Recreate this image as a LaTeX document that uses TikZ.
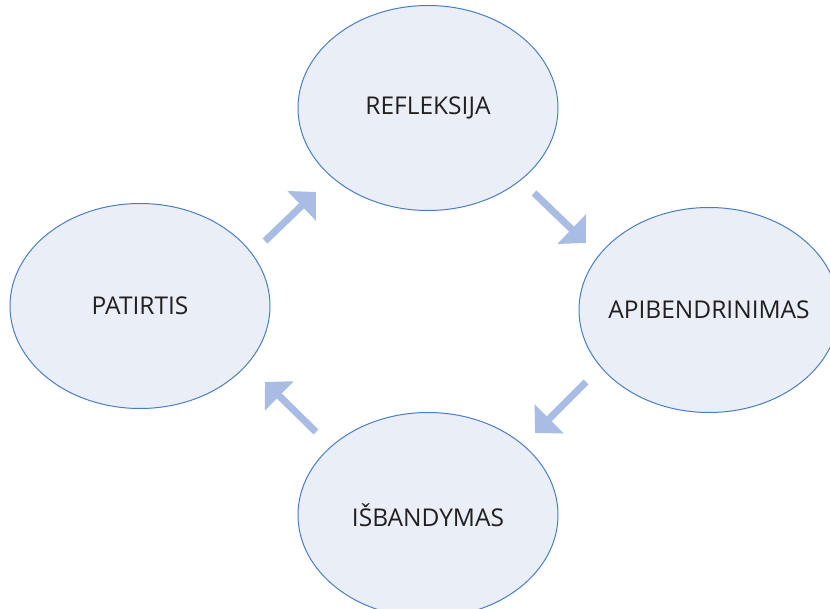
\documentclass[tikz,border=0pt]{standalone}
\usepackage{fontspec}
\setmainfont{Open Sans}
\usetikzlibrary{arrows.meta,shapes.geometric}
\definecolor{ellfill}{HTML}{E9EEF7}
\definecolor{elldraw}{HTML}{4A7EC4}
\definecolor{arrowblue}{HTML}{A9BCE3}
\definecolor{labeltext}{HTML}{231F20}
\tikzset{
  stage/.style={ellipse, draw=elldraw, line width=1pt, fill=ellfill,
    minimum width=260pt, minimum height=205pt, inner sep=0pt,
    text=labeltext, font=\fontsize{24.5}{28}\selectfont},
  flow/.style={draw=arrowblue, line width=7pt,
    -{Triangle[width=40pt,length=20pt]}, fill=arrowblue}
}
\begin{document}
\begin{tikzpicture}[x=1pt,y=-1pt]
  \useasboundingbox (0,0) rectangle (830,609);
  \begin{scope}
    \clip (0,0) rectangle (830,609);
    % zero-width label boxes keep every ellipse at its minimum size
    \node[stage] (refl) at (428,108) {\makebox[0pt]{REFLEKSIJA}};
    \node[stage] (patir) at (140,306) {\makebox[0pt]{PATIRTIS}};
    \node[stage] (apib) at (709,310) {\makebox[0pt]{APIBENDRINIMAS}};
    \node[stage] (isb) at (428,515) {\makebox[0pt]{IŠBANDYMAS}};
  \end{scope}
  % arrow end points between the stages
  \coordinate (a1s) at (265,241);
  \coordinate (a1e) at (316,192);
  \coordinate (a2s) at (534,193);
  \coordinate (a2e) at (586,243);
  \coordinate (a3s) at (586,382);
  \coordinate (a3e) at (535,433);
  \coordinate (a4s) at (316,432);
  \coordinate (a4e) at (265,382);
  \draw[flow] (a1s) -- (a1e);
  \draw[flow] (a2s) -- (a2e);
  \draw[flow] (a3s) -- (a3e);
  \draw[flow] (a4s) -- (a4e);
\end{tikzpicture}
\end{document}
